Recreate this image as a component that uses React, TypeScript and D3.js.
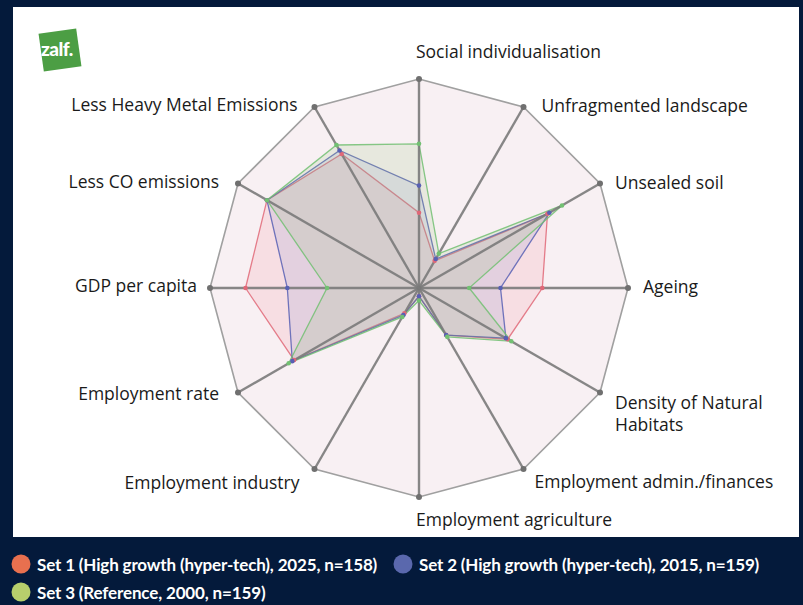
import React, { useEffect, useRef } from 'react';
import * as d3 from 'd3';

// axes, clockwise from the top
const axes = [
  'Social individualisation',
  'Unfragmented landscape',
  'Unsealed soil',
  'Ageing',
  'Density of Natural|Habitats',
  'Employment admin./finances',
  'Employment agriculture',
  'Employment industry',
  'Employment rate',
  'GDP per capita',
  'Less CO emissions',
  'Less Heavy Metal Emissions',
];

// values as share of the full radius
const set1 = [0.36, 0.15, 0.71, 0.59, 0.49, 0.26, 0.04, 0.14, 0.69, 0.83, 0.84, 0.74];
const set2 = [0.49, 0.16, 0.72, 0.39, 0.48, 0.26, 0.04, 0.15, 0.70, 0.63, 0.84, 0.76];
const set3 = [0.69, 0.19, 0.79, 0.24, 0.51, 0.27, 0.06, 0.16, 0.72, 0.44, 0.84, 0.79];

const legendLabels = [
  'Set 1 (High growth (hyper-tech), 2025, n=158)',
  'Set 2 (High growth (hyper-tech), 2015, n=159)',
  'Set 3 (Reference, 2000, n=159)',
];

const legendColors = ['#e8704f', '#5a68ad', '#b7cf6c'];
const strokeColors = ['#e06878', '#5860b4', '#72c072'];
const fillColors = ['#f08090', '#7a8ad0', '#8cc070'];

const App = () => {
  const ref = useRef<SVGSVGElement | null>(null);

  useEffect(() => {
    document.body.style.margin = '0';
    const width = 803;
    const height = 605;
    const cx = 419;
    const cy = 288;
    const radius = 209;

    const svg = d3.select(ref.current);
    svg.selectAll('*').remove();

    // navy frame and white panel
    svg.append('rect').attr('width', width).attr('height', height).attr('fill', '#041a3b');
    svg.append('rect').attr('x', 13).attr('y', 7).attr('width', 786).attr('height', 530).attr('fill', '#ffffff');

    const angle = d3.scaleLinear().domain([0, axes.length]).range([0, 2 * Math.PI]);
    const r = d3.scaleLinear().domain([0, 1]).range([0, radius]);

    const g = svg.append('g').attr('transform', `translate(${cx},${cy})`);

    const pt = (i: number, v: number): [number, number] => {
      const a = angle(i);
      return [Math.sin(a) * r(v), -Math.cos(a) * r(v)];
    };

    const line = d3.line<[number, number]>().curve(d3.curveLinearClosed);

    // outer polygon
    const outer = axes.map((_, i) => pt(i, 1));
    g.append('path')
      .attr('d', line(outer))
      .attr('fill', '#f8f0f3')
      .attr('stroke', '#a0a0a0')
      .attr('stroke-width', 1.6);

    // series
    const sets = [set1, set2, set3];
    sets.forEach((s, k) => {
      g.append('path')
        .attr('d', line(s.map((v, i) => pt(i, v))))
        .attr('fill', fillColors[k])
        .attr('fill-opacity', 0.16)
        .attr('stroke', strokeColors[k])
        .attr('stroke-width', 1.3)
        .attr('stroke-opacity', 0.85);
    });

    // spokes
    axes.forEach((_, i) => {
      const [x, y] = pt(i, 1);
      g.append('line')
        .attr('x1', 0).attr('y1', 0)
        .attr('x2', x).attr('y2', y)
        .attr('stroke', '#7a7a7a')
        .attr('stroke-width', 2.4)
        .attr('stroke-opacity', 0.9);
    });

    // series dots
    sets.forEach((s, k) => {
      g.selectAll(null)
        .data(s)
        .enter()
        .append('circle')
        .attr('cx', (v, i) => pt(i, v)[0])
        .attr('cy', (v, i) => pt(i, v)[1])
        .attr('r', 2.3)
        .attr('fill', strokeColors[k]);
    });

    // outer vertex dots
    g.selectAll(null)
      .data(outer)
      .enter()
      .append('circle')
      .attr('cx', d => d[0])
      .attr('cy', d => d[1])
      .attr('r', 3)
      .attr('fill', '#707070');

    // axis labels
    axes.forEach((label, i) => {
      const [x, y] = pt(i, 1);
      const s = Math.sin(angle(i));
      const c = -Math.cos(angle(i));
      let anchor = 'start';
      let tx = x;
      let ty = y;
      if (Math.abs(s) < 0.01) {
        tx = x - 3;
        ty = y + (c < 0 ? -28 : 22);
      } else if (s > 0) {
        tx = x + (Math.abs(s) < 0.6 ? 18 : 15);
        ty = y + (c > 0.6 ? 12 : c > 0.3 ? 9 : -2);
        if (c > 0.6) tx = x + 11;
      } else {
        anchor = 'end';
        tx = x - (Math.abs(s) < 0.6 ? 17 : 19);
        if (c > 0.6) tx = x - 15;
        ty = y + (c > 0.6 ? 13 : c > 0.3 ? 0 : -3);
        if (s < -0.99) tx = x - 13;
      }
      const lines = label.split('|');
      lines.forEach((l, j) => {
        g.append('text')
          .attr('x', tx)
          .attr('y', ty + j * 22)
          .attr('text-anchor', anchor)
          .attr('dominant-baseline', 'central')
          .attr('font-family', '"Open Sans", sans-serif')
          .attr('font-size', 17.5)
          .attr('fill', '#1a1a1a')
          .text(l);
      });
    });

    // logo
    const logo = svg.append('g').attr('transform', 'translate(60,50) rotate(-8)');
    logo.append('rect').attr('x', -19).attr('y', -19).attr('width', 38).attr('height', 38).attr('fill', '#4c9e44');
    svg.append('text')
      .attr('x', 41).attr('y', 56)
      .attr('font-family', 'Lato, sans-serif')
      .attr('font-weight', 900)
      .attr('font-size', 19)
      .attr('letter-spacing', -0.5)
      .attr('fill', '#ffffff')
      .text('zalf.');

    // legend
    const legendPos = [[21, 564], [403, 564], [21, 592]];
    legendLabels.forEach((l, k) => {
      const [lx, ly] = legendPos[k];
      svg.append('circle').attr('cx', lx).attr('cy', ly).attr('r', 9.5).attr('fill', legendColors[k]);
      svg.append('text')
        .attr('x', lx + 16)
        .attr('y', ly)
        .attr('dominant-baseline', 'central')
        .attr('font-family', 'Lato, sans-serif')
        .attr('font-weight', 700)
        .attr('font-size', 17)
        .attr('letter-spacing', -0.15)
        .attr('fill', '#ffffff')
        .text(l);
    });
  }, []);

  return <svg ref={ref} width={803} height={605} style={{ display: 'block' }} />;
};

export default App;
